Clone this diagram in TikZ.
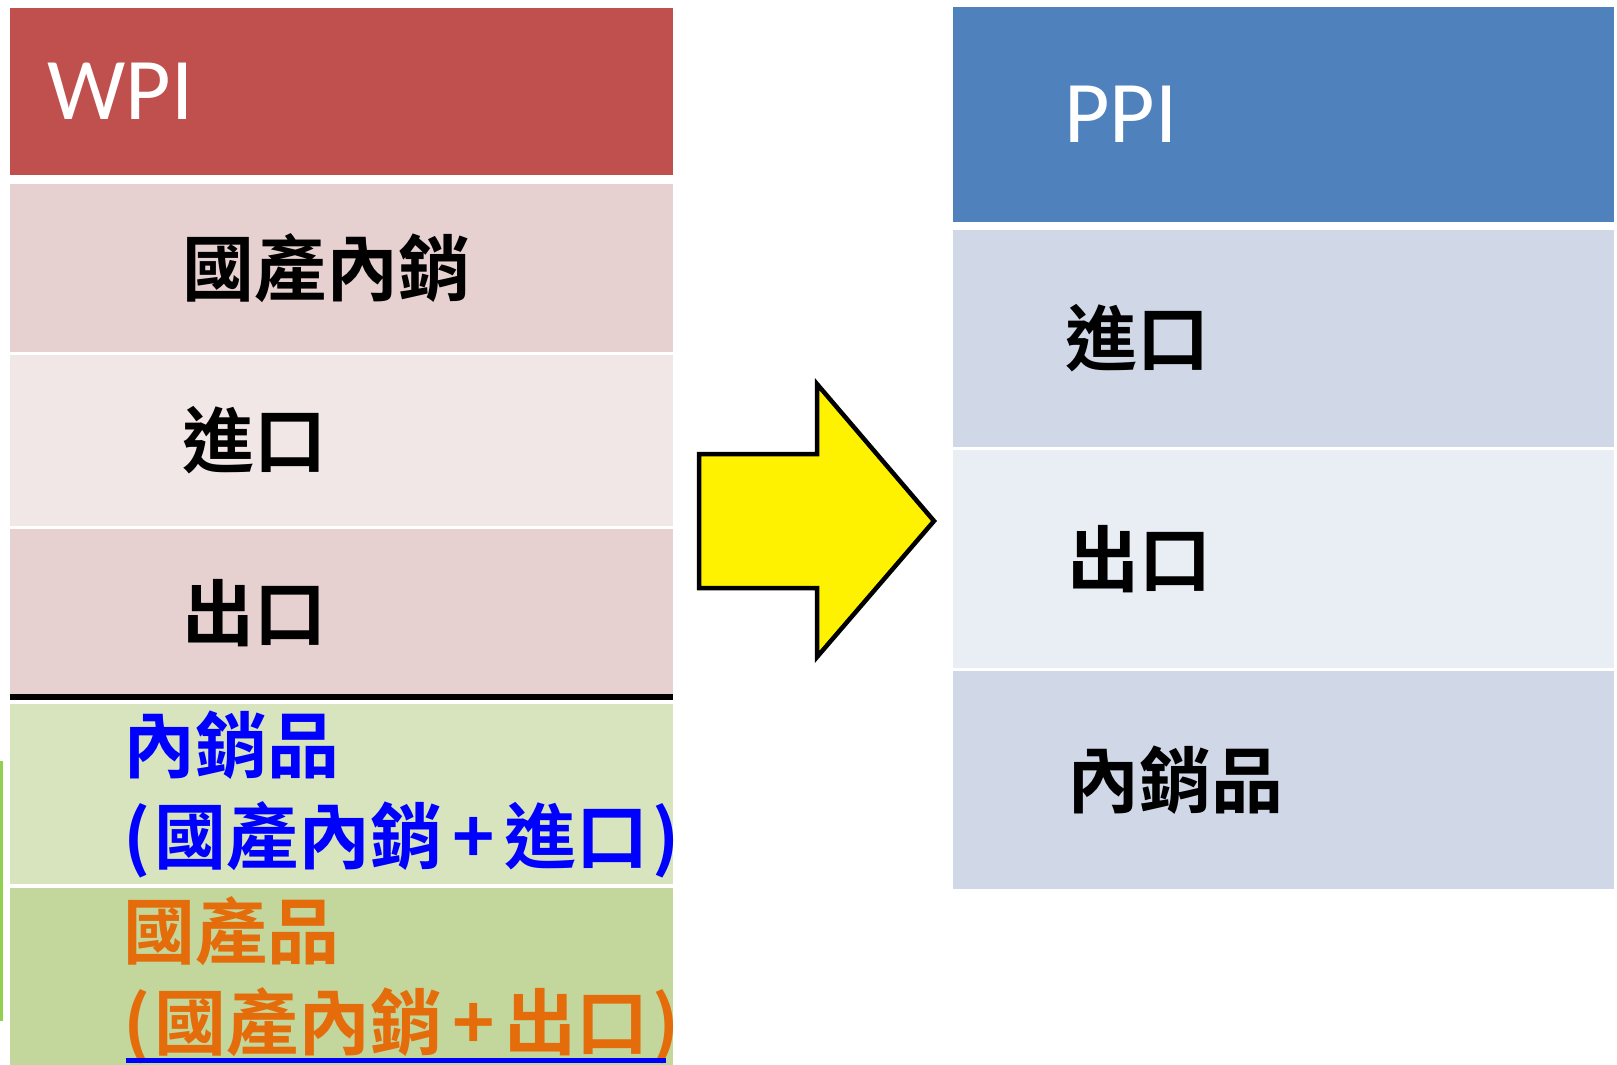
\documentclass[tikz,border=0pt]{standalone}
\usepackage{fontspec}
\newfontfamily\cjkfont{Noto Sans CJK TC}[BoldFont={Noto Sans CJK TC Bold}]
\newfontfamily\capfont{Carlito}
\usetikzlibrary{positioning}
\definecolor{wpired}{HTML}{C0504D}
\definecolor{pinkband}{HTML}{E7D0D0}
\definecolor{pinklight}{HTML}{F2E7E7}
\definecolor{greenlight}{HTML}{D7E4BD}
\definecolor{greendark}{HTML}{C3D69B}
\definecolor{greenedge}{HTML}{92D050}
\definecolor{ppiblue}{HTML}{4F81BD}
\definecolor{blueband}{HTML}{D0D8E8}
\definecolor{bluelight}{HTML}{E9EDF4}
\definecolor{orangetext}{HTML}{E46C0A}
\newcommand{\wideplus}{\kern10pt+\kern10pt}

\begin{document}
\begin{tikzpicture}[x=1pt,y=-1pt,
  band node/.style={inner sep=0pt,outer sep=0pt,anchor=north west,minimum width=663pt},
  right band/.style={band node,minimum width=661pt},
  head text/.style={inner sep=0pt,anchor=west,text=white,font=\capfont\fontsize{88}{96}\selectfont},
  item text/.style={inner sep=0pt,anchor=west,font=\cjkfont\bfseries\fontsize{72}{91}\selectfont},
  pair text/.style={item text,align=left}]

  \useasboundingbox (0,0) rectangle (1617,1065);

  % left column: WPI
  \node[band node,fill=wpired,minimum height=167pt] (wpi) at (10,8) {};
  \node[band node,fill=pinkband,minimum height=168pt] (l1) at (10,184) {};
  \node[band node,fill=pinklight,minimum height=171pt] (l2) at (10,355) {};
  \node[band node,fill=pinkband,minimum height=168pt] (l3) at (10,529) {};
  \node[band node,fill=greenlight,minimum height=180pt] (g1) at (10,704) {};
  \node[band node,fill=greendark,minimum height=185pt] (g2) at (10,888) {};
  \draw[line width=6pt] (l3.south west) -- (l3.south east);
  \fill[greenedge] (0,761) rectangle (3,1021);

  \node[head text] (wpit) at ([xshift=37pt]wpi.west) {WPI};
  \node[item text] (l1t) at ([xshift=172pt]l1.west) {國產內銷};
  \node[item text] (l2t) at ([xshift=172pt]l2.west) {進口};
  \node[item text] (l3t) at ([xshift=172pt]l3.west) {出口};
  \node[pair text,text=blue] (g1t) at ([xshift=113pt]g1.west) {內銷品\\(\kern4pt國產內銷\wideplus 進口\kern4pt)};
  \node[pair text,text=orangetext] (g2t) at ([xshift=113pt]g2.west) {國產品\\(\kern4pt國產內銷\wideplus 出口\kern4pt)};
  \fill[blue] (126,1058) rectangle (666,1063);

  % right column: PPI
  \node[right band,fill=ppiblue,minimum height=215pt] (ppi) at (953,7) {};
  \node[right band,fill=blueband,minimum height=217pt] (r1) at (953,230) {};
  \node[right band,fill=bluelight,minimum height=218pt] (r2) at (953,450) {};
  \node[right band,fill=blueband,minimum height=218pt] (r3) at (953,671) {};

  \node[head text] (ppit) at ([xshift=111pt]ppi.west) {PPI};
  \node[item text] (r1t) at ([xshift=112pt]r1.west) {進口};
  \node[item text] (r2t) at ([xshift=114pt]r2.west) {出口};
  \node[item text] (r3t) at ([xshift=114pt]r3.west) {內銷品};

  % big arrow
  \draw[line width=4.5pt,fill=yellow,line join=miter]
    (699,454) -- (817,454) -- (817,384) -- (934,521) -- (817,657) -- (817,588) -- (699,588) -- cycle;
\end{tikzpicture}
\end{document}
